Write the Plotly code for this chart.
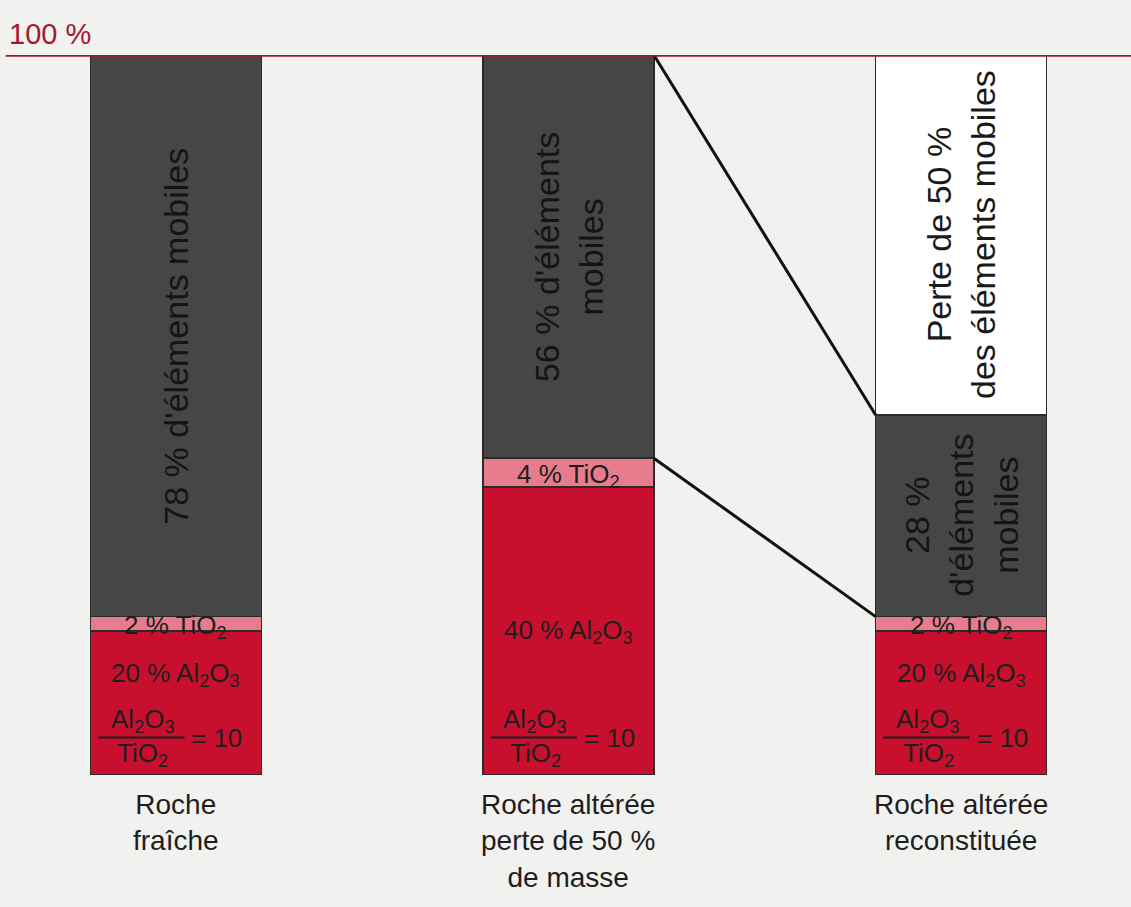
import plotly.graph_objects as go

categories = ["Roche<br>fraîche", "Roche altérée<br>perte de 50 %<br>de masse", "Roche altérée<br>reconstituée"]
al2o3 = [20, 40, 20]
tio2 = [2, 4, 2]
mobiles = [78, 56, 28]
perte = [0, 0, 50]
al_labels = ["20 % Al<sub>2</sub>O<sub>3</sub>", "40 % Al<sub>2</sub>O<sub>3</sub>", "20 % Al<sub>2</sub>O<sub>3</sub>"]
ti_labels = ["2 % TiO<sub>2</sub>", "4 % TiO<sub>2</sub>", "2 % TiO<sub>2</sub>"]
mob_labels = ["78 % d'éléments mobiles", "56 % d'éléments<br>mobiles", "28 %<br>d'éléments<br>mobiles"]
perte_label = "Perte de 50 %<br>des éléments mobiles"
ratio = 10

FONT = "Liberation Sans, Arial, sans-serif"
RED = "#c8102e"
PINK = "#e67c8c"
GREY = "#464646"
EDGE = "#2b2b2b"
TXT = "#1e1e1e"
W = 0.435
x = [0, 1, 2]
PLOT_H = 720.0  # px height of plotting area

fig = go.Figure()
for name, vals, col in [("Al2O3", al2o3, RED), ("TiO2", tio2, PINK),
                        ("mobiles", mobiles, GREY), ("perte", perte, "#ffffff")]:
    fig.add_trace(go.Bar(x=x, y=vals, width=W, name=name,
                         marker=dict(color=col, line=dict(color=EDGE, width=1.5)),
                         hoverinfo="skip"))

ann = []
shapes = []
HS = 26
for i in x:
    ann.append(dict(x=i, y=al2o3[i] + tio2[i] / 2, yshift=-3, text=ti_labels[i], showarrow=False,
                    font=dict(size=HS, color=TXT, family=FONT)))
    yal = al2o3[i] / 2 if al2o3[i] > 30 else 14.0
    ann.append(dict(x=i, y=yal, text=al_labels[i], showarrow=False,
                    font=dict(size=HS, color=TXT, family=FONT)))
    ann.append(dict(x=i, y=7.6, xshift=-33, text="Al<sub>2</sub>O<sub>3</sub>", showarrow=False,
                    font=dict(size=HS, color=TXT, family=FONT)))
    ann.append(dict(x=i, y=2.9, xshift=-33, text="TiO<sub>2</sub>", showarrow=False,
                    font=dict(size=HS, color=TXT, family=FONT)))
    ann.append(dict(x=i, y=5.2, xshift=41, text="= %d" % ratio, showarrow=False,
                    font=dict(size=HS, color=TXT, family=FONT)))
    shapes.append(dict(type="line", xref="x", yref="y", x0=i - 0.198, x1=i + 0.022,
                       y0=5.2, y1=5.2, line=dict(color=TXT, width=2)))
    base = al2o3[i] + tio2[i]
    ann.append(dict(x=i, y=base + mobiles[i] / 2, text=mob_labels[i], showarrow=False,
                    textangle=-90, font=dict(size=34, color="#141414", family=FONT)))
    ann.append(dict(x=i, xref="x", y=-12 / PLOT_H, yref="paper", yanchor="top",
                    text=categories[i], showarrow=False,
                    font=dict(size=28, color=TXT, family=FONT)))

top3 = al2o3[2] + tio2[2] + mobiles[2]
ann.append(dict(x=2, y=top3 + perte[2] / 2, text=perte_label, showarrow=False,
                textangle=-90, font=dict(size=34, color="#1a1a1a", family=FONT)))
ann.append(dict(x=0.006, xref="paper", y=1, yref="paper", yanchor="bottom", yshift=3,
                xanchor="left", text="100 %", showarrow=False,
                font=dict(size=29, color="#a3182f", family=FONT)))

top2 = al2o3[1] + tio2[1] + mobiles[1]
shapes.append(dict(type="line", xref="x", yref="y", x0=1 + W / 2, x1=2 - W / 2,
                   y0=top2, y1=top3, line=dict(color="#111111", width=3)))
shapes.append(dict(type="line", xref="x", yref="y", x0=1 + W / 2, x1=2 - W / 2,
                   y0=al2o3[1] + tio2[1], y1=al2o3[2] + tio2[2],
                   line=dict(color="#111111", width=3)))
shapes.append(dict(type="line", xref="paper", yref="y", x0=0.005, x1=1, y0=100, y1=100,
                   line=dict(color="#a3182f", width=3.5), layer="above"))

fig.update_layout(
    width=1131, height=907,
    barmode="stack", showlegend=False,
    paper_bgcolor="#f1f1ef", plot_bgcolor="rgba(0,0,0,0)",
    margin=dict(l=0, r=0, t=55, b=132),
    xaxis=dict(range=[-0.448, 2.433], visible=False, fixedrange=True),
    yaxis=dict(range=[0, 100], visible=False, fixedrange=True),
    annotations=ann, shapes=shapes,
    font=dict(family=FONT),
)
fig.write_html("out.html", config={"displayModeBar": False},
               post_script="document.body.style.margin='0';document.body.style.overflow='hidden';")
